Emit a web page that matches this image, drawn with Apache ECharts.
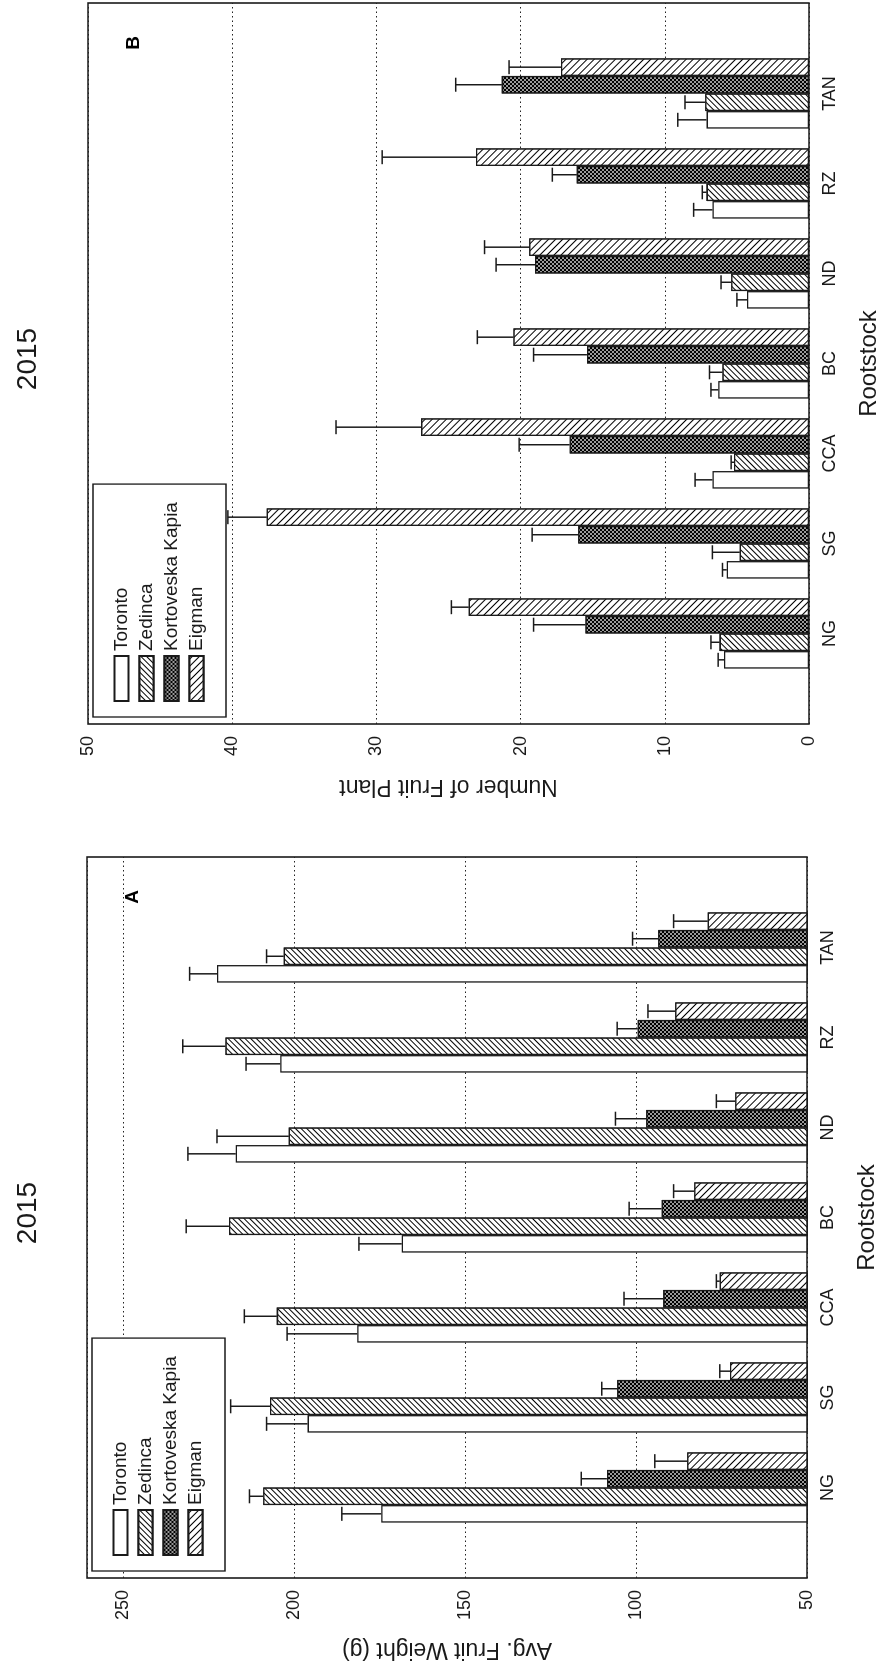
<!DOCTYPE html>
<html>
<head>
<meta charset="utf-8">
<title>Rootstock 2015</title>
<script src="https://cdn.jsdelivr.net/npm/echarts@6/dist/echarts.min.js"></script>
<style>
    html, body { margin: 0; padding: 0; overflow: hidden; background: #fff; }
    #page { position: relative; width: 888px; height: 1671px; overflow: hidden; }
    /* the figure is drawn landscape and turned a quarter to the left, like the scan */
    #main { position: absolute; left: 0; top: 0; width: 1671px; height: 888px;
            transform-origin: 0 0; transform: translate(0, 1671px) rotate(-90deg); }
</style>
</head>
<body>
<div id="page"><div id="main"></div></div>
<script>

var rootstocks = ['NG', 'SG', 'CCA', 'BC', 'ND', 'RZ', 'TAN'];
var cultivars = ['Toronto', 'Zedinca', 'Kortoveska Kapia', 'Eigman'];

// A - avg. fruit weight (g), mean and SE
var weightToronto = [174.5, 196, 181.5, 168.5, 217, 204, 222.5];
var weightTorontoSe = [11.5, 12, 20.5, 12.5, 14, 10, 8];
var weightZedinca = [209, 207, 205, 219, 201.5, 220, 203];
var weightZedincaSe = [4, 11.5, 9.5, 12.5, 21, 12.5, 5];
var weightKapia = [108.5, 105.5, 92, 92.5, 97, 99.5, 93.5];
var weightKapiaSe = [7.5, 4.5, 11.5, 9.5, 9, 6, 7.5];
var weightEigman = [85, 72.5, 75.5, 83, 71, 88.5, 79];
var weightEigmanSe = [9.5, 3, 1, 6, 5.5, 8, 10];

// B - number of fruit per plant, mean and SE
var fruitToronto = [5.9, 5.7, 6.7, 6.3, 4.3, 6.7, 7.1];
var fruitTorontoSe = [0.4, 0.3, 1.2, 0.5, 0.7, 1.3, 2.0];
var fruitZedinca = [6.2, 4.8, 5.2, 6.0, 5.4, 7.1, 7.2];
var fruitZedincaSe = [0.6, 1.9, 0.2, 0.9, 0.7, 0.3, 1.4];
var fruitKapia = [15.5, 16.0, 16.6, 15.4, 19.0, 16.1, 21.3];
var fruitKapiaSe = [3.6, 3.2, 3.5, 3.7, 2.7, 1.7, 3.2];
var fruitEigman = [23.6, 37.6, 26.9, 20.5, 19.4, 23.1, 17.2];
var fruitEigmanSe = [1.2, 2.7, 5.9, 2.5, 3.1, 6.5, 3.6];

var weightTicks = [50, 100, 150, 200, 250];
var fruitTicks = [0, 10, 20, 30, 40, 50];

(function () {

    var font = '"Liberation Sans", Arial, sans-serif';
    var ink = '#1a1a1a';
    var gapRatio = 0.22;

    var fills = [
        { color: '#fff' },
        { color: '#fff', decal: { symbol: 'rect', symbolSize: 1, color: '#000', backgroundColor: '#fff',
            dashArrayX: [1, 0], dashArrayY: [1, 2.3], rotation: -Math.PI / 4 } },
        { color: '#000', decal: { symbol: 'rect', symbolSize: 0.8, color: '#fff', backgroundColor: '#000',
            dashArrayX: [[2, 2], [0, 2, 2, 0]], dashArrayY: [2, 0] } },
        { color: '#fff', decal: { symbol: 'rect', symbolSize: 1, color: '#000', backgroundColor: '#fff',
            dashArrayX: [1, 0], dashArrayY: [1, 3.8], rotation: Math.PI / 4 } }
    ];

    var errorBars = function (params, api) {
        var cat = api.value(0), k = api.value(1);
        var p0 = api.coord([cat, api.value(2)]);
        var p1 = api.coord([cat, api.value(3)]);
        var band = api.size([1, 0])[0];
        var groupW = band * (1 - gapRatio);
        var barW = groupW / cultivars.length;
        var x = p0[0] - groupW / 2 + barW * (k + 0.5);
        var cap = barW * 0.4;
        var style = { stroke: ink, lineWidth: 1.5 };
        return {
            type: 'group',
            children: [
                { type: 'line', shape: { x1: x, y1: p0[1], x2: x, y2: p1[1] }, style: style },
                { type: 'line', shape: { x1: x - cap, y1: p1[1], x2: x + cap, y2: p1[1] }, style: style }
            ]
        };
    };

    // bars + error bars of one panel, drawn in its inner grid
    var panelSeries = function (axisIndex, means, ses) {
        var list = [];
        var errRows = [];
        for (var k = 0; k < cultivars.length; k++) {
            list.push({
                name: cultivars[k],
                type: 'bar',
                xAxisIndex: axisIndex,
                yAxisIndex: axisIndex,
                data: means[k],
                barGap: '0%',
                barCategoryGap: (gapRatio * 100) + '%',
                clip: true,
                itemStyle: {
                    color: fills[k].color,
                    decal: fills[k].decal,
                    borderColor: ink,
                    borderWidth: 1.3
                }
            });
            for (var c = 0; c < rootstocks.length; c++) {
                errRows.push([c, k, means[k][c], means[k][c] + ses[k][c]]);
            }
        }
        list.push({
            type: 'custom',
            xAxisIndex: axisIndex,
            yAxisIndex: axisIndex,
            renderItem: errorBars,
            encode: { x: 0, y: [2, 3] },
            data: errRows,
            z: 5
        });
        return list;
    };

    var frameY = function (grid, min, max, step, name, gap) {
        return {
            type: 'value', gridIndex: grid, min: min, max: max, interval: step,
            name: name, nameLocation: 'middle', nameGap: gap, nameRotate: 90,
            nameTextStyle: { fontSize: 23, color: ink, fontFamily: font },
            axisLine: { show: false }, axisTick: { show: false },
            axisLabel: { fontSize: 18, color: ink, margin: 12, showMaxLabel: step === 10,
                fontFamily: font },
            splitLine: { show: true, lineStyle: { type: [1.5, 3], color: '#222', width: 1.2 } }
        };
    };

    var innerX = function (grid) {
        return {
            type: 'category', gridIndex: grid, data: rootstocks,
            name: 'Rootstock', nameLocation: 'middle', nameGap: 48,
            nameTextStyle: { fontSize: 24, color: ink, fontFamily: font },
            axisLine: { show: false }, axisTick: { show: false },
            axisLabel: { fontSize: 18, color: ink, margin: 12, fontFamily: font }
        };
    };

    var legendAt = function (left, top) {
        return {
            left: left, top: top, orient: 'vertical', data: cultivars,
            selectedMode: false, icon: 'rect', itemWidth: 45, itemHeight: 14, itemGap: 6,
            padding: [19, 18, 20, 15],
            backgroundColor: '#fff', borderColor: ink, borderWidth: 1.3,
            textStyle: { fontSize: 19, lineHeight: 16, color: ink, fontFamily: font }
        };
    };

    var myChart = echarts.init(document.getElementById('main'));

    var option = {
        animation: false,
        textStyle: { fontFamily: font },
        title: [
            { text: '2015', left: 453, top: 9, textAlign: 'center',
                textStyle: { fontSize: 28, fontWeight: 'normal', color: ink, fontFamily: font } },
            { text: '2015', left: 1307, top: 9, textAlign: 'center',
                textStyle: { fontSize: 28, fontWeight: 'normal', color: ink, fontFamily: font } },
            { text: 'A', left: 769, top: 118, textAlign: 'center',
                textStyle: { fontSize: 19, fontWeight: 'bold', color: '#000', fontFamily: font } },
            { text: 'B', left: 1623, top: 119, textAlign: 'center',
                textStyle: { fontSize: 19, fontWeight: 'bold', color: '#000', fontFamily: font } }
        ],
        legend: [legendAt(100, 92), legendAt(954, 93)],
        grid: [
            { left: 93, top: 87, width: 721, height: 720, show: true, borderColor: ink, borderWidth: 1.6 },
            { left: 138.5, top: 87, width: 630, height: 720 },
            { left: 947, top: 88, width: 721, height: 721, show: true, borderColor: ink, borderWidth: 1.6 },
            { left: 992.5, top: 88, width: 630, height: 721 }
        ],
        xAxis: [
            { type: 'category', gridIndex: 0, data: rootstocks, show: false },
            innerX(1),
            { type: 'category', gridIndex: 2, data: rootstocks, show: false },
            innerX(3)
        ],
        yAxis: [
            frameY(0, weightTicks[0], 260.5, weightTicks[1] - weightTicks[0], 'Avg. Fruit Weight (g)', 60),
            { type: 'value', gridIndex: 1, min: weightTicks[0], max: 260.5, show: false },
            frameY(2, fruitTicks[0], fruitTicks[fruitTicks.length - 1], fruitTicks[1] - fruitTicks[0], 'Number of Fruit Plant', 51),
            { type: 'value', gridIndex: 3, min: fruitTicks[0], max: fruitTicks[fruitTicks.length - 1], show: false }
        ],
        series: panelSeries(1,
                [weightToronto, weightZedinca, weightKapia, weightEigman],
                [weightTorontoSe, weightZedincaSe, weightKapiaSe, weightEigmanSe])
            .concat(panelSeries(3,
                [fruitToronto, fruitZedinca, fruitKapia, fruitEigman],
                [fruitTorontoSe, fruitZedincaSe, fruitKapiaSe, fruitEigmanSe]))
    };

    myChart.setOption(option);

})();

</script>
</body>
</html>
